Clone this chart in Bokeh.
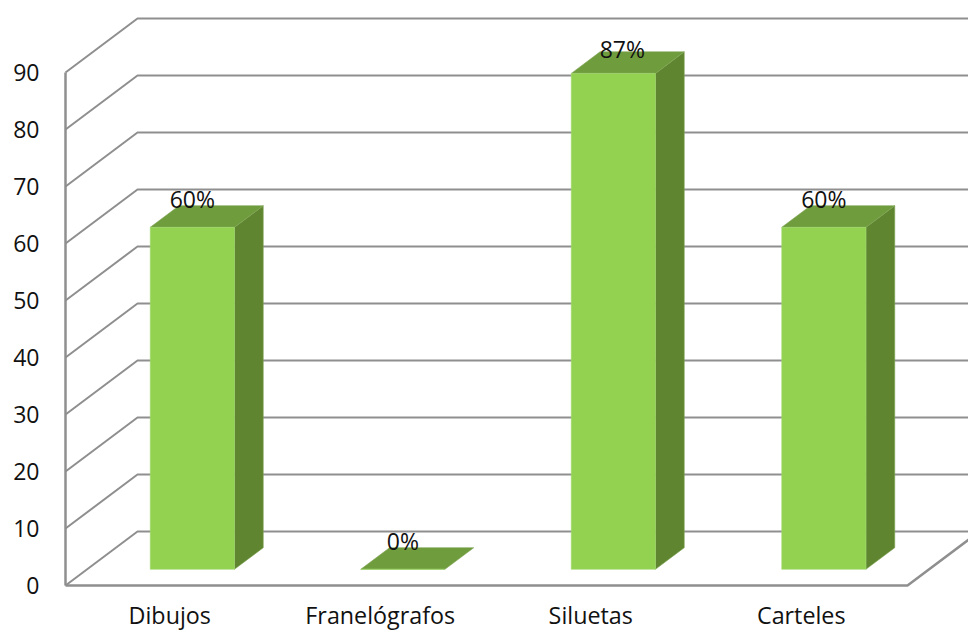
from bokeh.plotting import figure
from bokeh.models import ColumnDataSource, FixedTicker, Range1d
from bokeh.core.properties import value
from bokeh.embed import file_html
from bokeh.resources import INLINE

# Chart data
categories = ["Dibujos", "Franelógrafos", "Siluetas", "Carteles"]
percentages = [60, 0, 87, 60]
y_ticks = [0, 10, 20, 30, 40, 50, 60, 70, 80, 90]

# Page and plot geometry (pixels)
WIDTH, HEIGHT = 968, 630
FRAME_LEFT = 60
ORIGIN_X, ORIGIN_Y = 65, 585
SLOT_PX = 210.5
UNIT_PX = 5.7
DEPTH_PX_X, DEPTH_PX_Y = 72, 54
LABEL_NUDGE = 1 / SLOT_PX
CATEGORY_CENTER = 614

# Oblique projection expressed in data units
DX = DEPTH_PX_X / SLOT_PX
DY = DEPTH_PX_Y / UNIT_PX
BAR_WIDTH = 0.4
DEPTH_FRONT, DEPTH_BACK = 0.3, 0.7
N = len(categories)


def project(x, y, depth):
    return x + DX * depth, y + DY * depth


p = figure(
    width=WIDTH, height=HEIGHT, output_backend="svg", toolbar_location=None,
    x_axis_location=None,
    min_border_left=FRAME_LEFT, min_border_right=0, min_border_top=0,
    min_border_bottom=0,
    x_range=Range1d((FRAME_LEFT - ORIGIN_X) / SLOT_PX, (WIDTH - ORIGIN_X) / SLOT_PX),
    y_range=Range1d((ORIGIN_Y - HEIGHT) / UNIT_PX, ORIGIN_Y / UNIT_PX),
)
p.outline_line_color = None
p.grid.visible = False
p.background_fill_color = "white"

# Value axis
p.yaxis.ticker = FixedTicker(ticks=y_ticks)
p.yaxis.axis_line_color = None
p.yaxis.major_tick_line_color = None
p.yaxis.minor_tick_line_color = None
p.yaxis.major_tick_out = 0
p.yaxis.major_label_standoff = 21
p.yaxis.major_label_text_font = "Open Sans"
p.yaxis.major_label_text_font_size = "23px"
p.yaxis.major_label_text_color = "#111111"

# Side wall and back wall gridlines
GRID_COLOR = "#8f8f8f"
grid_xs, grid_ys = [], []
for t in y_ticks:
    bx, by = project(0, t, 1)
    grid_xs.append([0, bx, (WIDTH - ORIGIN_X) / SLOT_PX])
    grid_ys.append([t, by, by])
p.multi_line(grid_xs, grid_ys, line_color=GRID_COLOR, line_width=2)

# Front edges of the wall and the floor
fx, fy = project(N, 0, 1)
p.line([0, 0], [y_ticks[0], y_ticks[-1]], line_color=GRID_COLOR, line_width=2.5)
p.line([0, N, fx], [0, 0, fy], line_color=GRID_COLOR, line_width=2.5)

# Bars: side face, top face, then front face
side_xs, side_ys, top_xs, top_ys, lefts, rights, tops, bottoms = [], [], [], [], [], [], [], []
for i, v in enumerate(percentages):
    x0 = i + 0.5 - BAR_WIDTH / 2
    x1 = i + 0.5 + BAR_WIDTH / 2
    fl, fb = project(x0, 0, DEPTH_FRONT)
    fr, ft = project(x1, v, DEPTH_FRONT)
    bl, bt = project(x0, v, DEPTH_BACK)
    br, bb = project(x1, 0, DEPTH_BACK)
    lefts.append(fl)
    rights.append(fr)
    tops.append(ft)
    bottoms.append(fb)
    top_xs.append([fl, fr, br, bl])
    top_ys.append([ft, ft, bt, bt])
    if v > 0:
        side_xs.append([fr, br, br, fr])
        side_ys.append([fb, bb, bt, ft])

p.patches(side_xs, side_ys, fill_color="#5f8531", line_color="#7fa555", line_width=0.6)
p.patches(top_xs, top_ys, fill_color="#6f9c3c", line_color="#7fa555", line_width=0.6)
p.quad(left=lefts, right=rights, top=tops, bottom=bottoms,
       fill_color="#92d250", line_color="#a2d86e", line_width=0.6)

# Value labels above each bar
labels = ColumnDataSource(data=dict(
    x=[(l + r) / 2 for l, r in zip(lefts, rights)],
    y=tops,
    text=[f"{v}%" for v in percentages],
    shift_x=[0, 0, 9, 0],
    shift_y=[-28, -28, -24, -28],
))
p.text(x="x", y="y", text="text", source=labels, x_offset="shift_x", y_offset="shift_y",
       text_align="center", text_baseline="middle",
       text_font=value("Open Sans"), text_font_size="23px", text_color="#111111")

# Category names under the floor
p.text(x=[i + 0.5 - LABEL_NUDGE for i in range(N)],
       y=[(ORIGIN_Y - CATEGORY_CENTER) / UNIT_PX] * N,
       text=categories, text_align="center", text_baseline="middle",
       text_font=value("Open Sans"), text_font_size="23.3px", text_color="#111111")

open("out.html", "w").write(file_html(p, INLINE))
